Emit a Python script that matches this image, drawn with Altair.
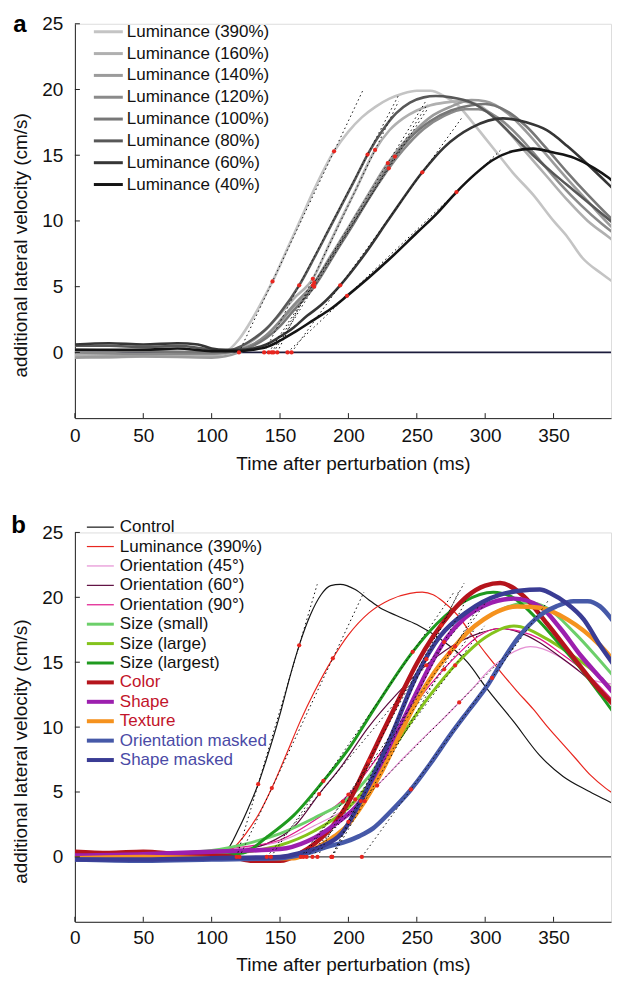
import altair as alt
import numpy as np
import pandas as pd

FONT = "Liberation Sans"

# ---------------- Panel a : luminance series ----------------
a_names = ["Luminance (390%)", "Luminance (160%)", "Luminance (140%)", "Luminance (120%)",
           "Luminance (100%)", "Luminance (80%)", "Luminance (60%)", "Luminance (40%)"]
a_colors = ["#c4c4c4", "#b0b0b0", "#9b9b9b", "#8a8a8a", "#777777", "#585858", "#363636", "#141414"]

a390_t = [0, 25, 50, 75, 100, 110, 120, 130, 140, 145, 155, 165, 175, 189.5, 200, 210, 220, 230, 240, 250,
          260, 270, 280, 290, 300, 310, 320, 335, 350, 360, 371, 385, 400]
a390_v = [-0.3, -0.4, -0.3, -0.3, -0.3, 0.0, 1.0, 2.6, 4.5, 5.5, 7.8, 10.1, 12.4, 15.3, 16.8, 17.9, 18.7, 19.3,
          19.7, 19.9, 19.9, 19.5, 18.8, 17.6, 16.3, 15.0, 13.7, 12.0, 10.0, 8.8, 7.2, 6.0, 4.9]
a160_t = [0, 50, 100, 110, 120, 130, 140, 150, 160, 174, 185, 195, 205, 219.5, 230, 240, 250, 260, 270, 280,
          290, 300, 315, 330, 345, 360, 375, 390, 400]
a160_v = [-0.2, -0.2, -0.2, -0.1, 0.3, 0.9, 1.8, 2.9, 4.1, 5.6, 8.0, 10.2, 12.3, 15.4, 16.9, 17.8, 18.4, 18.8,
          19.0, 19.1, 19.0, 18.5, 17.0, 15.2, 13.4, 11.6, 10.0, 8.8, 8.0]
a140_t = [0, 50, 100, 110, 120, 130, 140, 150, 160, 174, 185, 200, 215, 228.8, 240, 250, 260, 275, 290, 300,
          315, 330, 345, 360, 375, 390, 400]
a140_v = [-0.4, -0.3, -0.4, -0.3, 0.0, 0.5, 1.3, 2.3, 3.5, 5.1, 7.0, 9.5, 12.1, 14.4, 15.9, 17.0, 17.9, 18.7,
          19.2, 19.1, 18.3, 16.8, 15.0, 13.2, 11.5, 9.8, 8.8]
a120_t = [0, 50, 100, 110, 120, 130, 140, 150, 160, 175, 190, 205, 218, 229.5, 240, 255, 270, 285, 295, 310,
          325, 340, 355, 370, 385, 400]
a120_v = [0.0, -0.1, -0.1, 0.0, 0.2, 0.6, 1.3, 2.4, 3.6, 5.3, 7.7, 10.1, 12.2, 14.0, 15.4, 17.0, 18.0, 18.5,
          18.5, 17.8, 16.4, 14.6, 12.8, 11.2, 9.8, 8.6]
a100_t = [0, 50, 100, 110, 120, 130, 140, 150, 160, 175, 190, 205, 220, 234, 245, 260, 275, 290, 300, 315,
          330, 345, 360, 375, 390, 400]
a100_v = [0.2, 0.1, 0.0, 0.0, 0.2, 0.5, 1.1, 2.0, 3.2, 5.0, 7.5, 10.0, 12.6, 14.9, 16.3, 17.6, 18.4, 18.8,
          18.9, 18.4, 17.2, 15.5, 13.7, 12.0, 10.4, 9.4]
a80_t = [0, 25, 50, 75, 100, 110, 120, 130, 140, 150, 164, 175, 185, 195, 205, 214, 225, 235, 245, 255, 264,
         275, 290, 305, 320, 335, 350, 365, 380, 400]
a80_v = [0.5, 0.5, 0.4, 0.5, 0.2, 0.1, 0.4, 1.0, 1.8, 3.0, 5.1, 7.2, 9.2, 11.2, 13.2, 15.05, 16.9, 18.2, 19.0,
         19.4, 19.5, 19.4, 19.0, 18.0, 16.5, 15.0, 13.6, 12.3, 11.0, 9.3]
a60_t = [0, 25, 50, 75, 90, 100, 110, 120, 130, 140, 150, 160, 170, 180, 194, 210, 230, 254, 270, 290, 313,
         330, 345, 360, 375, 390, 400]
a60_v = [0.6, 0.7, 0.6, 0.7, 0.6, 0.3, 0.2, 0.2, 0.3, 0.6, 1.2, 1.9, 2.8, 3.6, 5.1, 7.2, 10.2, 13.7, 15.6,
         17.1, 17.8, 17.5, 16.9, 15.7, 14.3, 12.8, 11.8]
a40_t = [0, 25, 50, 75, 100, 120, 130, 140, 150, 160, 175, 187, 199, 215, 230, 250, 265, 279, 293, 305, 320,
         335, 350, 365, 380, 390, 400]
a40_v = [0.2, 0.2, 0.2, 0.3, 0.1, 0.1, 0.2, 0.4, 0.9, 1.5, 2.5, 3.3, 4.3, 5.7, 7.1, 9.1, 10.6, 12.2, 13.6,
         14.6, 15.3, 15.5, 15.2, 14.8, 14.0, 13.3, 12.4]

# times of the two red markers on each curve (ms)
a_dot_times = [[144.5, 189.5], [174, 219.5], [174, 228.8], [175, 229.5],
               [175, 234], [164, 214], [194, 254], [199, 279]]

# ---------------- Panel b : feature series ----------------
b_names = ["Control", "Luminance (390%)", "Orientation (45°)", "Orientation (60°)", "Orientation (90°)",
           "Size (small)", "Size (large)", "Size (largest)", "Color", "Shape", "Texture",
           "Orientation masked", "Shape masked"]
b_colors = ["#151515", "#e8261f", "#e58fd3", "#5c0b3e", "#e0168c", "#6ccf6a", "#84c31c", "#1f9a1f",
            "#b5141c", "#9c1fae", "#f5921e", "#4659a8", "#3a3c94"]
b_widths = [1.2, 1.2, 1.2, 1.2, 1.2, 3, 3, 3, 4.5, 4.5, 4.5, 4.5, 4.5]
b_label_colors = ["#111111"] * 8 + ["#c2142a"] * 3 + ["#4a4aa6"] * 2

ctrl_t = [0, 25, 50, 75, 100, 110, 120, 127, 134, 140, 150, 157, 164, 172, 180, 187, 194, 205, 215, 223, 235,
          250, 267, 287, 301, 321, 340, 357, 375, 388, 399]
ctrl_v = [0.1, 0.0, 0.1, 0.0, 0.1, 0.4, 2.2, 3.8, 5.6, 7.5, 11.0, 13.8, 16.3, 18.6, 20.2, 20.9, 21.0, 20.6,
          19.8, 19.2, 18.6, 17.9, 16.8, 15.0, 13.0, 10.4, 7.8, 6.2, 5.1, 4.4, 3.8]
lum_t = [0, 25, 50, 75, 100, 110, 116, 125, 135, 144, 155, 165, 175, 188.6, 200, 215, 230, 245, 254, 262, 269,
         280, 291, 301, 311, 323, 335, 345, 355, 366, 377, 388, 399]
lum_v = [0.2, 0.1, 0.3, 0.1, 0.1, 0.3, 0.7, 1.8, 3.4, 5.3, 8.0, 10.5, 12.7, 15.3, 17.1, 18.8, 19.8, 20.3, 20.4,
         20.2, 19.7, 18.6, 17.0, 15.6, 14.3, 12.8, 11.4, 10.1, 8.9, 7.6, 6.3, 5.3, 4.5]
o45_t = [0, 50, 100, 125, 150, 175, 200, 221, 240, 258, 267, 281, 291, 303, 316, 333, 353, 365, 377, 394]
o45_v = [0.3, 0.3, 0.4, 0.7, 1.2, 2.4, 3.8, 5.5, 7.6, 9.5, 10.4, 11.9, 13.0, 14.4, 15.5, 16.2, 15.5, 14.6,
         13.7, 13.3]
o60_t = [0, 50, 100, 120, 140, 160, 179, 195, 214, 235, 255, 275, 295, 311, 325, 340, 355, 370, 385, 399]
o60_v = [0.1, 0.2, 0.3, 0.5, 1.0, 2.3, 4.9, 7.0, 9.9, 12.5, 14.6, 16.2, 17.2, 17.6, 17.3, 16.5, 15.4, 14.2,
         12.7, 11.2]
o90_t = [0, 50, 100, 125, 150, 175, 200, 220, 240, 260, 280, 295, 309, 325, 340, 355, 370, 385, 399]
o90_v = [0.2, 0.3, 0.5, 0.8, 1.3, 2.8, 4.8, 7.5, 10.5, 13.3, 15.6, 17.0, 17.6, 17.4, 16.8, 15.7, 14.5, 13.0,
         11.4]
ssm_t = [0, 50, 100, 125, 150, 175, 200, 215, 238, 255, 274.5, 299, 315, 331, 345, 365, 380, 394]
ssm_v = [0.1, 0.2, 0.5, 1.0, 1.8, 3.0, 4.5, 6.2, 10.1, 13.0, 15.8, 18.3, 19.2, 19.6, 19.2, 17.3, 15.6, 13.9]
slg_t = [0, 50, 100, 126, 150, 175, 200, 220, 240, 260, 280, 300, 321, 345, 360, 377, 399]
slg_v = [0.0, 0.1, 0.2, 0.4, 0.9, 2.0, 3.8, 6.3, 9.5, 12.5, 15.0, 16.9, 17.8, 16.8, 15.8, 14.5, 12.2]
sxl_t = [0, 50, 100, 123, 140, 160, 181.7, 200, 220, 247, 265, 285, 306, 320, 340, 355, 370, 385, 399]
sxl_v = [0.0, 0.1, 0.1, 0.3, 1.5, 3.2, 5.85, 8.3, 11.6, 15.8, 18.0, 19.7, 20.4, 20.0, 18.1, 16.3, 14.5, 12.4,
         10.4]
col_t = [0, 25, 50, 75, 100, 115, 130, 150, 165, 175, 187, 200, 213.6, 225, 238, 250, 262, 275, 287, 300, 311,
         328, 345, 365, 380, 399]
col_v = [0.4, 0.3, 0.4, 0.2, 0.1, 0.0, -0.3, -0.3, 0.3, 1.0, 2.2, 4.2, 7.1, 9.6, 12.4, 14.9, 17.0, 18.8, 20.1,
         20.9, 21.1, 20.1, 18.0, 15.3, 13.3, 11.2]
shp_t = [0, 50, 100, 150, 170, 190, 209, 225, 238, 250, 260, 272, 285, 300, 321, 340, 355, 370, 385, 399]
shp_v = [0.1, 0.2, 0.4, 0.6, 1.2, 2.5, 4.3, 7.3, 10.1, 12.7, 14.8, 16.9, 18.4, 19.4, 19.9, 19.3, 17.6, 15.5,
         13.7, 12.0]
tex_t = [0, 50, 100, 150, 160, 170, 180, 190, 199, 212, 225.5, 238, 250, 262, 274.5, 287, 299, 311, 323.5, 340,
         360, 384, 399]
tex_v = [-0.1, 0.0, -0.1, -0.1, -0.1, 0.3, 0.9, 1.6, 2.4, 4.3, 6.8, 9.5, 12.0, 14.1, 15.8, 17.3, 18.3, 19.0,
         19.3, 19.2, 18.3, 16.3, 14.5]
omk_t = [0, 50, 100, 150, 170, 185, 196, 208, 218, 230, 245, 260, 274.5, 288, 301.6, 312, 323.5, 340, 352,
         364.6, 375, 384, 394]
omk_v = [-0.2, -0.3, -0.2, -0.1, 0.3, 0.8, 1.1, 1.6, 2.2, 3.4, 5.1, 7.2, 9.4, 11.3, 13.2, 15.0, 16.8, 18.6,
         19.3, 19.7, 19.7, 19.3, 18.1]
smk_t = [0, 50, 100, 150, 165, 180, 195, 210, 230, 250, 267, 287, 311, 325, 340, 348, 360, 372, 384, 399]
smk_v = [-0.2, -0.2, -0.1, 0.0, 0.3, 0.8, 1.8, 4.5, 9.0, 14.0, 17.0, 18.9, 20.2, 20.5, 20.6, 20.3, 19.5, 18.3,
         16.3, 14.1]

b_dot_times = [[134, 164], [144, 188.6], [221, 281], [178.6, 257], [200, 270], [196, 274], [205, 278],
               [181.7, 247], [215, 268], [209, 270], [212, 278], [245.7, 305], [200, 257]]

x_ticks = [0, 50, 100, 150, 200, 250, 300, 350]
y_ticks = [0, 5, 10, 15, 20, 25]

W = 537
X_MAX = 392


def panel(series, names, colors, widths, dot_times, zero_color, zero_width, H, leg, letter, lpad, tpad):
    xs = alt.Scale(domain=[0, X_MAX], nice=False, zero=False)
    ys = alt.Scale(domain=[-5, 25], nice=False, zero=False)
    xa = alt.Axis(values=x_ticks, ticks=False, grid=False, domainColor="#222222", labelFontSize=19,
                  labelColor="#111111", labelPadding=lpad, labelFont=FONT, labelFlush=False,
                  title="Time after perturbation (ms)",
                  titleFontSize=19, titleFontWeight="normal", titleFont=FONT, titleColor="#111111",
                  titlePadding=tpad, titleX=W / 2 + 10)
    ya = alt.Axis(values=y_ticks, ticks=False, grid=False, domainColor="#222222", labelFontSize=19,
                  labelColor="#111111", labelPadding=12, labelFont=FONT,
                  title="additional lateral velocity (cm/s)", titleFontSize=19, titleFontWeight="normal",
                  titleFont=FONT, titleColor="#111111", titlePadding=11, titleY=H / 2 + 24)

    def X(f):
        return alt.X(f, scale=xs, axis=xa)

    def Y(f):
        return alt.Y(f, scale=ys, axis=ya)

    layers = []
    fits = []
    dots = []
    for (t, v), name, c, w, dt in zip(series, names, colors, widths, dot_times):
        df = pd.DataFrame({"t": t, "v": v})
        layers.append(alt.Chart(df).mark_line(interpolate="monotone", clip=True, color=c, strokeWidth=w)
                      .encode(x=X("t:Q"), y=Y("v:Q")))
        v1, v2 = np.interp(dt[0], t, v), np.interp(dt[1], t, v)
        slope = (v2 - v1) / (dt[1] - dt[0])
        t0 = dt[0] - v1 / slope
        top = max(v)
        ttop = dt[0] + (top - v1) / slope
        fits.append({"t": t0, "v": 0.0, "t2": ttop, "v2": top})
        dots += [{"t": dt[0], "v": v1}, {"t": dt[1], "v": v2}, {"t": t0, "v": 0.0}]

    zero = alt.Chart(pd.DataFrame({"t": [0], "t2": [400], "v": [0]})).mark_rule(
        color=zero_color, strokeWidth=zero_width, clip=True).encode(x=X("t:Q"), x2="t2:Q", y=Y("v:Q"))
    fit = alt.Chart(pd.DataFrame(fits)).mark_rule(color="#111111", strokeWidth=1,
                                                  strokeDash=[1.5, 3], clip=True).encode(
        x=X("t:Q"), y=Y("v:Q"), x2="t2:Q", y2="v2:Q")
    dot = alt.Chart(pd.DataFrame(dots)).mark_circle(size=18, color="#e8261f", opacity=1, clip=True).encode(
        x=X("t:Q"), y=Y("v:Q"))
    ytick = alt.Chart(pd.DataFrame({"tv": y_ticks})).mark_rule(color="#222222").encode(
        y=Y("tv:Q"), x=alt.value(0), x2=alt.value(5))
    xtick = alt.Chart(pd.DataFrame({"tv": x_ticks})).mark_rule(color="#222222").encode(
        x=X("tv:Q"), y=alt.value(H), y2=alt.value(H - 5))

    inner = alt.layer(zero, *layers, fit, dot, ytick, xtick)

    leg_df = pd.DataFrame({"name": names, "col": colors, "w": leg["w"], "tcol": leg["tcol"],
                           "i": list(range(len(names)))})
    ly = f"{leg['y0']} + datum.i * {leg['dy']}"
    leg_rule = alt.Chart(leg_df).mark_rule().encode(
        x=alt.value(leg["x0"]), x2=alt.value(leg["x1"]),
        y=alt.Y("ly:Q", scale=None, axis=None),
        color=alt.Color("col:N", scale=None),
        strokeWidth=alt.StrokeWidth("w:Q", scale=None)).transform_calculate(ly=ly)
    leg_text = alt.Chart(leg_df).mark_text(align="left", baseline="middle", fontSize=17, font=FONT).encode(
        x=alt.value(leg["xt"]), y=alt.Y("ly:Q", scale=None, axis=None), text="name:N",
        color=alt.Color("tcol:N", scale=None)).transform_calculate(ly=ly)
    let = alt.Chart(pd.DataFrame({"s": [letter[0]]})).mark_text(
        fontSize=24, fontWeight="bold", font=FONT, align="center", baseline="top", color="#000000"
    ).encode(text="s:N", x=alt.value(letter[1]), y=alt.value(letter[2]))

    return alt.layer(inner, leg_rule, leg_text, let).resolve_scale(y="independent").properties(
        width=W, height=H)


a_series = [(a390_t, a390_v), (a160_t, a160_v), (a140_t, a140_v), (a120_t, a120_v),
            (a100_t, a100_v), (a80_t, a80_v), (a60_t, a60_v), (a40_t, a40_v)]
b_series = [(ctrl_t, ctrl_v), (lum_t, lum_v), (o45_t, o45_v), (o60_t, o60_v), (o90_t, o90_v),
            (ssm_t, ssm_v), (slg_t, slg_v), (sxl_t, sxl_v), (col_t, col_v), (shp_t, shp_v),
            (tex_t, tex_v), (omk_t, omk_v), (smk_t, smk_v)]

pa = panel(a_series, a_names, a_colors, [2.6] * 8, a_dot_times, "#1c1c3c", 1.6, 395,
           {"w": [3] * 8, "tcol": ["#111111"] * 8, "y0": 8, "dy": 21.86, "x0": 19, "x1": 48, "xt": 52},
           ("a", -55, -11), 8, 9.6)
pb = panel(b_series, b_names, b_colors, b_widths, b_dot_times, "#111111", 1.0, 390,
           {"w": [1.2, 1.2, 1.2, 1.2, 1.2, 3, 3, 3, 4, 4, 4, 4, 4], "tcol": b_label_colors,
            "y0": -5.3, "dy": 19.44, "x0": 12, "x1": 39, "xt": 45},
           ("b", -56.5, -18.8), 7, 7.7)

chart = alt.vconcat(pa, pb, spacing=37.5).properties(
    padding={"left": 2, "top": 3, "right": 0, "bottom": 0}
).configure_view(stroke=None).configure(font=FONT)

chart.save("out.html", embed_options={"renderer": "svg", "actions": False})
